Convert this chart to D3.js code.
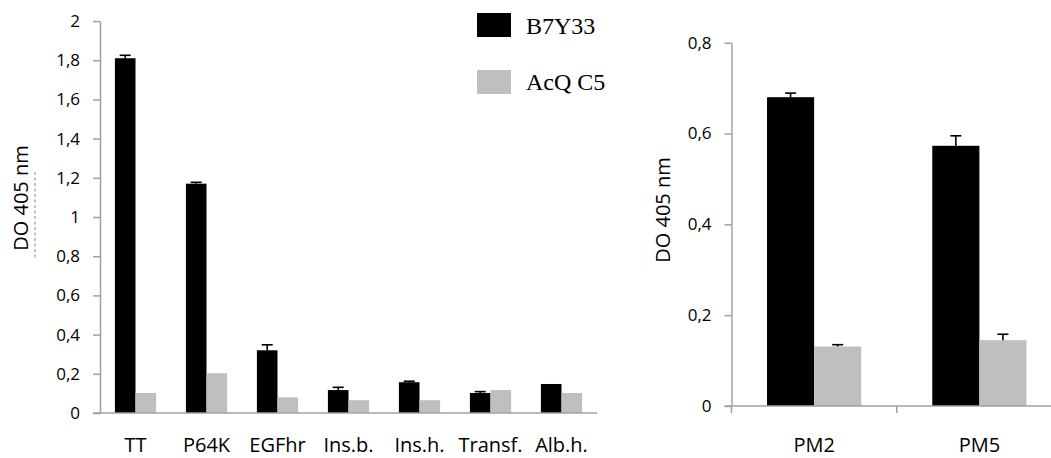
<!DOCTYPE html>
<html>
<head>
<meta charset="utf-8">
<script src="https://cdn.jsdelivr.net/npm/d3@7/dist/d3.min.js"></script>
<style>
  html, body { margin: 0; padding: 0; background: #fff; }
  svg { display: block; }
  .tick text { font-family: "Open Sans", sans-serif; font-size: 17px; fill: #000; }
  .cat { font-family: "Open Sans", sans-serif; font-size: 20px; fill: #000; }
  .ytitle { font-family: "Open Sans", sans-serif; font-size: 20px; fill: #000; }
  .legend text { font-family: "Liberation Serif", "Times New Roman", serif; font-size: 24px; fill: #000; }
</style>
</head>
<body>
<svg id="chart" width="1051" height="458"></svg>
<script>
// ---- Panel A: antigen panel ----
const antigens = ["TT", "P64K", "EGFhr", "Ins.b.", "Ins.h.", "Transf.", "Alb.h."];
const b7y33 = [1.81, 1.17, 0.32, 0.117, 0.157, 0.102, 0.148];
const b7y33Err = [0.015, 0.007, 0.028, 0.014, 0.005, 0.007, 0];
const acqC5 = [0.102, 0.203, 0.080, 0.065, 0.065, 0.117, 0.102];
const acqC5Err = [0, 0, 0, 0, 0, 0, 0];
const ticksA = [0, 0.2, 0.4, 0.6, 0.8, 1, 1.2, 1.4, 1.6, 1.8, 2];

// ---- Panel B: peptide mimotopes ----
const peptides = ["PM2", "PM5"];
const b7y33Pm = [0.680, 0.573];
const b7y33PmErr = [0.009, 0.022];
const acqC5Pm = [0.131, 0.145];
const acqC5PmErr = [0.004, 0.013];
const ticksB = [0, 0.2, 0.4, 0.6, 0.8];

const seriesNames = ["B7Y33", "AcQ C5"];
const seriesColors = ["#000000", "#bfbfbf"];
const axisColor = "#a0a0a0";
const yTitle = "DO 405 nm";

const svg = d3.select("#chart");
const fmt = d => String(d).replace(".", ",");

function panel(cfg) {
  const g = svg.append("g");
  const x = d3.scaleBand().domain(cfg.cats).range(cfg.xRange)
    .paddingInner(cfg.padIn).paddingOuter(cfg.padIn / 2);
  const xs = d3.scaleBand().domain(seriesNames).range([0, x.bandwidth()]);
  const y = d3.scaleLinear().domain(cfg.yDomain).range(cfg.yRange);

  // y axis
  const ya = g.append("g")
    .attr("transform", `translate(${cfg.xRange[0]},0)`)
    .call(d3.axisLeft(y).tickValues(cfg.ticks).tickFormat(fmt)
      .tickSize(7).tickSizeOuter(0).tickPadding(13));
  ya.select(".domain").attr("stroke", axisColor).attr("stroke-width", 1.5);
  ya.selectAll(".tick line").attr("stroke", axisColor).attr("stroke-width", 1.5);

  // bars
  const rows = cfg.cats.map((c, i) => ({
    cat: c,
    vals: [
      { s: seriesNames[0], v: cfg.s1[i], e: cfg.e1[i] },
      { s: seriesNames[1], v: cfg.s2[i], e: cfg.e2[i] }
    ]
  }));
  const groups = g.selectAll(".grp").data(rows).enter().append("g")
    .attr("transform", d => `translate(${x(d.cat)},0)`);
  groups.selectAll("rect").data(d => d.vals).enter().append("rect")
    .attr("x", d => xs(d.s))
    .attr("width", xs.bandwidth())
    .attr("y", d => y(d.v))
    .attr("height", d => y(0) - y(d.v))
    .attr("fill", (d, i) => seriesColors[i]);

  // error bars (upper half)
  const eb = groups.selectAll(".err").data(d => d.vals.filter(v => v.e > 0)).enter()
    .append("g").attr("stroke", "#000").attr("stroke-width", 1.6);
  eb.append("line")
    .attr("x1", d => xs(d.s) + xs.bandwidth() / 2)
    .attr("x2", d => xs(d.s) + xs.bandwidth() / 2)
    .attr("y1", d => y(d.v)).attr("y2", d => y(d.v + d.e));
  eb.append("line")
    .attr("x1", d => xs(d.s) + xs.bandwidth() / 2 - 5.5)
    .attr("x2", d => xs(d.s) + xs.bandwidth() / 2 + 5.5)
    .attr("y1", d => y(d.v + d.e)).attr("y2", d => y(d.v + d.e));

  // x axis line
  g.append("line")
    .attr("x1", cfg.xRange[0] - 7).attr("x2", cfg.xRange[1])
    .attr("y1", y(0)).attr("y2", y(0))
    .attr("stroke", axisColor).attr("stroke-width", 1.5);
  if (cfg.catTicks) {
    const bounds = cfg.cats.map(c => x(c) - x.step() * x.paddingInner() / 2);
    g.selectAll(".ctick").data(bounds).enter().append("line")
      .attr("x1", d => d).attr("x2", d => d)
      .attr("y1", y(0)).attr("y2", y(0) + 7)
      .attr("stroke", axisColor).attr("stroke-width", 1.5);
  }

  // category labels
  g.selectAll(".cat").data(cfg.cats).enter().append("text")
    .attr("class", "cat")
    .attr("x", d => x(d) + x.bandwidth() / 2)
    .attr("y", cfg.labelY)
    .attr("text-anchor", "middle")
    .text(d => d);

  // y title
  g.append("text").attr("class", "ytitle")
    .attr("transform", `translate(${cfg.titleX},${cfg.titleY}) rotate(-90)`)
    .attr("text-anchor", "middle")
    .text(yTitle);
  return g;
}

panel({
  cats: antigens, s1: b7y33, e1: b7y33Err, s2: acqC5, e2: acqC5Err,
  xRange: [100, 597], padIn: 0.42,
  yDomain: [0, 2], yRange: [413, 21], ticks: ticksA,
  labelY: 452, titleX: 28, titleY: 198, catTicks: false
});

panel({
  cats: peptides, s1: b7y33Pm, e1: b7y33PmErr, s2: acqC5Pm, e2: acqC5PmErr,
  xRange: [731.5, 1062], padIn: 0.43,
  yDomain: [0, 0.8], yRange: [406, 42.7], ticks: ticksB,
  labelY: 452, titleX: 670, titleY: 210, catTicks: true
});

// faint dashed guide beside the left axis title
svg.append("line")
  .attr("x1", 35).attr("x2", 35).attr("y1", 172).attr("y2", 258)
  .attr("stroke", "#666").attr("stroke-width", 0.8)
  .attr("stroke-dasharray", "3,2.5");

// legend
const legend = svg.append("g").attr("class", "legend");
const legY = [13, 70];
const legTextY = [33.5, 90];
seriesNames.forEach((s, i) => {
  legend.append("rect")
    .attr("x", 477).attr("y", legY[i]).attr("width", 34).attr("height", 24)
    .attr("fill", seriesColors[i]);
  legend.append("text")
    .attr("x", 526).attr("y", legTextY[i])
    .text(s);
});
</script>
</body>
</html>
